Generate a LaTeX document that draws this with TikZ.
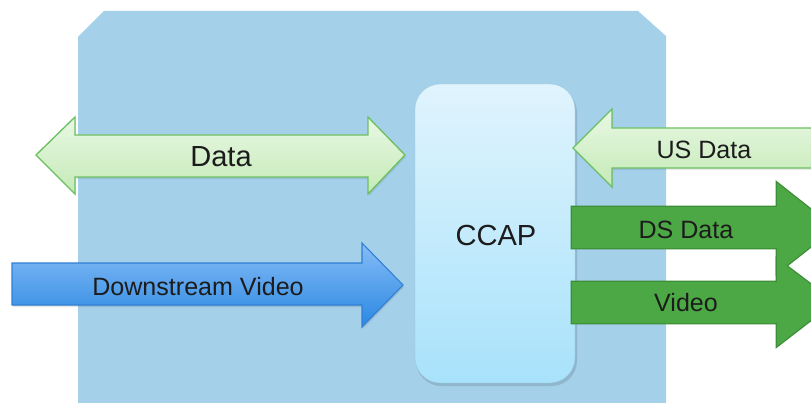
\documentclass[tikz,border=0pt]{standalone}
\usepackage{fontspec}
\setmainfont{Liberation Sans}
\definecolor{bgblue}{HTML}{A5D0EA}
\definecolor{lgtop}{HTML}{E9F8E4}
\definecolor{lgbot}{HTML}{C4EAB6}
\definecolor{lgedge}{HTML}{6CBF62}
\definecolor{dgfill}{HTML}{4CA844}
\definecolor{dgedge}{HTML}{3D8F37}
\definecolor{bltop}{HTML}{86BCF7}
\definecolor{blbot}{HTML}{2A88E2}
\definecolor{bledge}{HTML}{2F7FD4}
\definecolor{cctop}{HTML}{E0F4FD}
\definecolor{ccbot}{HTML}{A8E2FB}
\definecolor{txt}{HTML}{1C1C1C}
\tikzset{
  lgarrow/.style={draw=lgedge, line width=1pt, top color=lgtop, bottom color=lgbot, line join=miter},
  dgedgeline/.style={draw=dgedge, line width=2pt},
  dgbody/.style={fill=dgfill},
  blarrow/.style={draw=bledge, line width=0.8pt, top color=bltop, bottom color=blbot},
  lbl/.style={text=txt, font=\fontsize{18.8}{20}\selectfont, inner sep=0pt},
  biglbl/.style={text=txt, font=\fontsize{21.8}{24}\selectfont, inner sep=0pt},
  ccbox/.style={rounded corners=19pt, top color=cctop, bottom color=ccbot, draw=ccbot!85!black, draw opacity=0.35, line width=0.6pt}
}
\begin{document}
\begin{tikzpicture}[x=0.75pt,y=-0.75pt]
\useasboundingbox (0,0) rectangle (811,403);
\clip (0,0) rectangle (811,403);
% background
\fill[bgblue] (78,37) -- (104,11) -- (638,11) -- (666,36) -- (666,410) -- (78,410) -- cycle;
% CCAP box
\fill[black, opacity=0.12, rounded corners=19pt] (416,87) rectangle (577,386);
\draw[ccbox] (415,84) rectangle (575,383);
\node[biglbl] (ccap) at (496,235) {CCAP};
% Data double arrow
\fill[black, opacity=0.08] (37,157) -- (76,119) -- (76,137) -- (369,137) -- (369,119) -- (406,157) -- (369,196) -- (369,179) -- (76,179) -- (76,196) -- cycle;
\draw[lgarrow] (36,155) -- (75,117) -- (75,135) -- (368,135) -- (368,117) -- (405,155) -- (368,194) -- (368,177) -- (75,177) -- (75,194) -- cycle;
\node[biglbl] (data) at (221,157) {Data};
% Downstream video
\fill[black, opacity=0.10] (13,265) -- (363,265) -- (363,245) -- (404,287) -- (363,329) -- (363,307) -- (13,307) -- cycle;
\draw[blarrow] (12,263) -- (362,263) -- (362,243) -- (403,285) -- (362,327) -- (362,305) -- (12,305) -- cycle;
\node[lbl] (dsv) at (198,287) {Downstream Video};
% US Data
\fill[black, opacity=0.08] (574,150) -- (613,111) -- (613,130) -- (830,130) -- (830,170) -- (613,170) -- (613,189) -- cycle;
\draw[lgarrow] (573,148) -- (612,109) -- (612,128) -- (830,128) -- (830,168) -- (612,168) -- (612,187) -- cycle;
\node[lbl] (us) at (704,150) {US Data};
% DS Data and Video (outlines first, then bodies, so the overlap merges)
\draw[dgedgeline] (572,207) -- (777,207) -- (777,183) -- (834,228) -- (777,273) -- (777,248) -- (572,248) -- cycle;
\draw[dgedgeline] (572,282) -- (777,282) -- (777,259) -- (834,302) -- (777,346) -- (777,323) -- (572,323) -- cycle;
\fill[dgbody] (572,207) -- (777,207) -- (777,183) -- (834,228) -- (777,273) -- (777,248) -- (572,248) -- cycle;
\fill[dgbody] (572,282) -- (777,282) -- (777,259) -- (834,302) -- (777,346) -- (777,323) -- (572,323) -- cycle;
\node[lbl] (ds) at (686,230) {DS Data};
\node[lbl] (vid) at (686,303) {Video};
\end{tikzpicture}
\end{document}
